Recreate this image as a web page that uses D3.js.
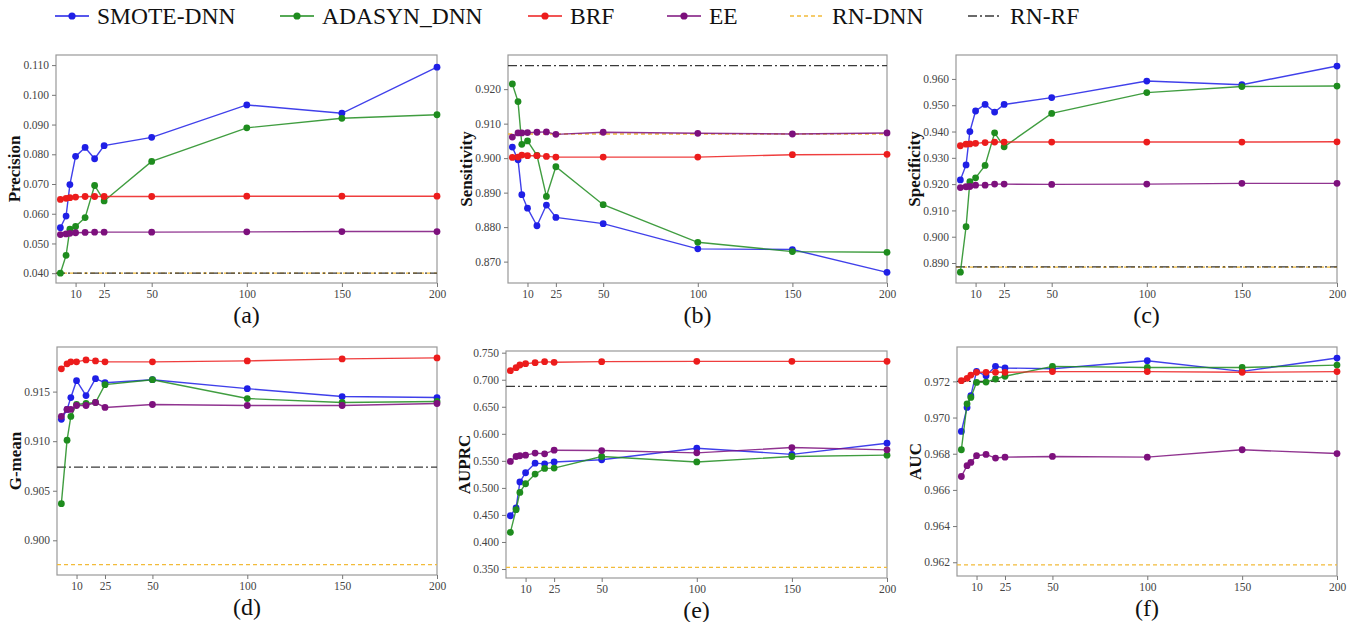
<!DOCTYPE html>
<html lang="en">
<head>
<meta charset="utf-8">
<title>Resampling ratio vs metrics</title>
<script src="https://cdn.jsdelivr.net/npm/d3@7"></script>
<style>
  body { margin: 0; background: #fff; }
  svg { display: block; font-family: "Liberation Serif", "Times New Roman", serif; }
  .tick text { fill: #444; font-size: 11.5px; }
  .tick line { stroke: #777; }
  .frame { fill: none; stroke: #999; stroke-width: 1.2; }
</style>
</head>
<body>
<svg id="chart" width="1357" height="622"></svg>
<script>
// x values (sampling ratio) shared by all panels
var xValues = [2, 5, 7, 10, 15, 20, 25, 50, 100, 150, 200];
var xTicks = [10, 25, 50, 100, 150, 200];

var methods = ["SMOTE-DNN", "ADASYN_DNN", "BRF", "EE"];
var baselines = ["RN-DNN", "RN-RF"];

// series values: [SMOTE-DNN, ADASYN_DNN, BRF, EE]
var precisionSeries = [
  [0.0553, 0.0592, 0.0698, 0.0793, 0.0823, 0.0785, 0.0829, 0.0857, 0.0966, 0.0938, 0.1093],
  [0.0400, 0.0460, 0.0548, 0.0557, 0.0587, 0.0695, 0.0643, 0.0776, 0.0889, 0.0921, 0.0933],
  [0.0648, 0.0652, 0.0654, 0.0656, 0.0658, 0.0658, 0.0658, 0.0658, 0.0659, 0.0659, 0.0659],
  [0.0530, 0.0532, 0.0534, 0.0536, 0.0537, 0.0538, 0.0538, 0.0538, 0.0539, 0.0540, 0.0540]
];
var precisionBase = [0.0400, 0.0400];

var sensitivitySeries = [
  [0.9032, 0.8995, 0.8894, 0.8855, 0.8804, 0.8864, 0.8828, 0.8810, 0.8737, 0.8735, 0.8669],
  [0.9215, 0.9164, 0.9040, 0.9050, 0.9008, 0.8889, 0.8975, 0.8865, 0.8756, 0.8729, 0.8727],
  [0.9002, 0.9003, 0.9009, 0.9007, 0.9007, 0.9005, 0.9003, 0.9003, 0.9003, 0.9010, 0.9011],
  [0.9061, 0.9073, 0.9073, 0.9074, 0.9075, 0.9076, 0.9069, 0.9075, 0.9072, 0.9070, 0.9073]
];
var sensitivityBase = [0.9070, 0.9268];

var specificitySeries = [
  [0.9216, 0.9273, 0.9400, 0.9478, 0.9503, 0.9474, 0.9503, 0.9529, 0.9592, 0.9578, 0.9649],
  [0.8865, 0.9038, 0.9209, 0.9224, 0.9271, 0.9395, 0.9342, 0.9469, 0.9548, 0.9571, 0.9573],
  [0.9346, 0.9352, 0.9353, 0.9355, 0.9358, 0.9360, 0.9360, 0.9360, 0.9360, 0.9360, 0.9361],
  [0.9187, 0.9190, 0.9191, 0.9196, 0.9196, 0.9200, 0.9200, 0.9199, 0.9200, 0.9203, 0.9203]
];
var specificityBase = [0.8884, 0.8885];

var gmeanSeries = [
  [0.9122, 0.9132, 0.9144, 0.9161, 0.9146, 0.9163, 0.9159, 0.9162, 0.9153, 0.9145, 0.9144],
  [0.9037, 0.9101, 0.9125, 0.9137, 0.9138, 0.9139, 0.9157, 0.9162, 0.9143, 0.9139, 0.9140],
  [0.9173, 0.9178, 0.9180, 0.9180, 0.9182, 0.9181, 0.9180, 0.9180, 0.9181, 0.9183, 0.9184],
  [0.9125, 0.9132, 0.9132, 0.9136, 0.9136, 0.9139, 0.9134, 0.9137, 0.9136, 0.9136, 0.9138]
];
var gmeanBase = [0.89755, 0.90738];

var auprcSeries = [
  [0.4485, 0.4630, 0.5110, 0.5280, 0.5457, 0.5445, 0.5480, 0.5520, 0.5734, 0.5620, 0.5826],
  [0.4178, 0.4597, 0.4917, 0.5077, 0.5255, 0.5360, 0.5366, 0.5580, 0.5480, 0.5580, 0.5605],
  [0.7168, 0.7223, 0.7272, 0.7297, 0.7315, 0.7334, 0.7322, 0.7334, 0.7340, 0.7340, 0.7340],
  [0.5489, 0.5580, 0.5594, 0.5605, 0.5643, 0.5630, 0.5697, 0.5690, 0.5648, 0.5746, 0.5703]
];
var auprcBase = [0.3531, 0.6877];

var aucSeries = [
  [0.96923, 0.97056, 0.97121, 0.97255, 0.97231, 0.97283, 0.97274, 0.97270, 0.97314, 0.97255, 0.97329],
  [0.96822, 0.97076, 0.97111, 0.97194, 0.97196, 0.97213, 0.97228, 0.97283, 0.97277, 0.97277, 0.97290],
  [0.97204, 0.97217, 0.97235, 0.97250, 0.97250, 0.97250, 0.97250, 0.97254, 0.97254, 0.97250, 0.97254],
  [0.96674, 0.96734, 0.96752, 0.96789, 0.96796, 0.96776, 0.96781, 0.96785, 0.96781, 0.96822, 0.96801]
];
var aucBase = [0.96185, 0.97200];

var panelLabels = ["(a)", "(b)", "(c)", "(d)", "(e)", "(f)"];
var yTitles = ["Precision", "Sensitivity", "Specificity", "G-mean", "AUPRC", "AUC"];

var colors = ["#1f1fe6", "#1e8c1e", "#ec1c1c", "#7d107d"];
var baseColors = ["#f2bb3a", "#3a3a3a"];
var serif = "'Liberation Serif', 'Times New Roman', serif";

var svg = d3.select("#chart");

// panel boxes and y axes
var panels = [
  { series: precisionSeries,   base: precisionBase,   box: [56, 55, 437, 283],   y: [0.0367, 0.1134], ticks: d3.range(0.040, 0.1101, 0.010) },
  { series: sensitivitySeries, base: sensitivityBase, box: [508, 55, 887, 283],  y: [0.8638, 0.9299], ticks: d3.range(0.870, 0.9201, 0.010) },
  { series: specificitySeries, base: specificityBase, box: [956, 55, 1337, 283], y: [0.8824, 0.9691], ticks: d3.range(0.890, 0.9601, 0.010) },
  { series: gmeanSeries,       base: gmeanBase,       box: [57, 347, 437, 575],  y: [0.8965, 0.9195], ticks: d3.range(0.900, 0.9151, 0.005) },
  { series: auprcSeries,       base: auprcBase,       box: [506, 351, 887, 578], y: [0.3334, 0.7531], ticks: d3.range(0.350, 0.7501, 0.050) },
  { series: aucSeries,         base: aucBase,         box: [957, 347, 1337, 576], y: [0.96124, 0.9739], ticks: d3.range(0.962, 0.97201, 0.002) }
];

panels.forEach(function(p, i) {
  var b = p.box;
  var x = d3.scaleLinear().domain([-0.3, 200]).range([b[0], b[2]]);
  var y = d3.scaleLinear().domain(p.y).range([b[3], b[1]]);
  var g = svg.append("g");

  g.append("rect").attr("class", "frame")
    .attr("x", b[0]).attr("y", b[1])
    .attr("width", b[2] - b[0]).attr("height", b[3] - b[1]);

  g.append("g")
    .attr("transform", "translate(0," + b[3] + ")")
    .call(d3.axisBottom(x).tickValues(xTicks).tickSize(4).tickPadding(3))
    .attr("font-family", serif)
    .call(function(a) { a.select(".domain").remove(); });

  g.append("g")
    .attr("transform", "translate(" + b[0] + ",0)")
    .call(d3.axisLeft(y).tickValues(p.ticks).tickFormat(d3.format(".3f")).tickSize(4).tickPadding(3))
    .attr("font-family", serif)
    .call(function(a) { a.select(".domain").remove(); });

  // baselines first (they sit under the series)
  p.base.forEach(function(v, k) {
    g.append("line")
      .attr("x1", b[0]).attr("x2", b[2])
      .attr("y1", y(v)).attr("y2", y(v))
      .attr("stroke", baseColors[k])
      .attr("stroke-width", 1.3)
      .attr("stroke-dasharray", k === 0 ? "4,3" : "9,3,2,3");
  });

  var line = d3.line()
    .x(function(d, j) { return x(xValues[j]); })
    .y(function(d) { return y(d); });

  p.series.forEach(function(vals, k) {
    g.append("path")
      .attr("d", line(vals))
      .attr("fill", "none")
      .attr("stroke", colors[k])
      .attr("stroke-opacity", 0.85)
      .attr("stroke-width", 1.4);
    g.selectAll(null).data(vals).enter().append("circle")
      .attr("cx", function(d, j) { return x(xValues[j]); })
      .attr("cy", function(d) { return y(d); })
      .attr("r", 3.4)
      .attr("fill", colors[k]);
  });

  g.append("text")
    .attr("transform", "translate(" + (b[0] - 42) + "," + ((b[1] + b[3]) / 2) + ") rotate(-90)")
    .attr("text-anchor", "middle")
    .attr("dy", "0.35em")
    .style("font-size", "17px")
    .style("font-weight", "bold")
    .attr("fill", "#111")
    .text(yTitles[i]);

  g.append("text")
    .attr("x", (b[0] + b[2]) / 2)
    .attr("y", b[3] + 40)
    .attr("text-anchor", "middle")
    .style("font-size", "24px")
    .attr("fill", "#111")
    .text(panelLabels[i]);
});

// Legend
var legendX = [55, 280, 528, 667, 790, 968];
var legendNames = methods.concat(baselines);
legendNames.forEach(function(name, k) {
  var lx = legendX[k], ly = 16;
  var lg = svg.append("g");
  if (k < 4) {
    lg.append("line").attr("x1", lx).attr("x2", lx + 34).attr("y1", ly).attr("y2", ly)
      .attr("stroke", colors[k]).attr("stroke-width", 1.6);
    lg.append("circle").attr("cx", lx + 17).attr("cy", ly).attr("r", 3.6).attr("fill", colors[k]);
  } else {
    lg.append("line").attr("x1", lx).attr("x2", lx + 34).attr("y1", ly).attr("y2", ly)
      .attr("stroke", baseColors[k - 4]).attr("stroke-width", 1.5)
      .attr("stroke-dasharray", k === 4 ? "4,3" : "9,3,2,3");
  }
  lg.append("text")
    .attr("x", lx + 42).attr("y", ly + 8)
    .style("font-size", "23.5px")
    .attr("fill", "#111")
    .text(name);
});
</script>
</body>
</html>
